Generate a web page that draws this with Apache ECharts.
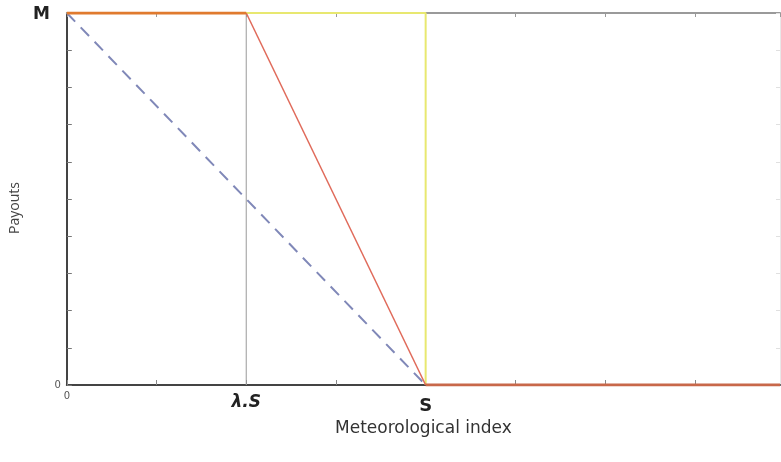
<!DOCTYPE html>
<html>
<head>
<meta charset="utf-8">
<script src="https://cdn.jsdelivr.net/npm/echarts@6/dist/echarts.min.js"></script>
<style>html,body{margin:0;padding:0;background:#fff}#c{width:781px;height:462px}</style>
</head>
<body>
<div id="c"></div>
<script>
// Axis key values (index units)
const lambdaS = 2;
const S = 4;
const M = 10;
const xMax = 7.95;
const xTickLabels = { 0: '0', 2: 'λ.S', 4: 'S' };
const yTickLabels = { 0: '0', 10: 'M' };

// Series point lists [index, payout]
const fullPayout = [[0, 10], [2, 10]];
const linearDecline = [[2, 10], [4, 0]];
const binaryPayout = [[0, 10], [4, 10], [4, 0]];
const lambdaMarker = [[2, 10], [2, 0]];
const proportional = [[0, 10], [4, 0]];
const zeroPayout = [[4, 0], [7.95, 0]];

const chart = echarts.init(document.getElementById('c'));
chart.setOption({
  animation: false,
  backgroundColor: '#fff',
  grid: { left: 65, right: 1, top: 13, bottom: 77 },
  xAxis: [{
    type: 'value', min: 0, max: xMax, interval: 1, position: 'bottom',
    name: 'Meteorological index', nameLocation: 'middle', nameGap: 29,
    nameTextStyle: { fontFamily: 'DejaVu Sans', fontSize: 17, color: '#333' },
    axisLine: { show: true, onZero: false, lineStyle: { color: '#444', width: 2 } },
    axisTick: { show: true, inside: true, length: 5, lineStyle: { color: '#888' } },
    splitLine: { show: false },
    axisLabel: {
      showMaxLabel: false,
      formatter: v => {
        const t = xTickLabels[v];
        if (t === undefined) return '';
        if (v === 0) return '{z|' + t + '}';
        if (v === 2) return '{l|' + t + '}';
        return '{s|' + t + '}';
      },
      rich: {
        z: { fontSize: 10, color: '#555', fontFamily: 'DejaVu Sans' },
        l: { fontSize: 17, color: '#222', fontWeight: 'bold', fontStyle: 'italic', fontFamily: 'DejaVu Sans', padding: [3, 0, 0, 0] },
        s: { fontSize: 18, color: '#222', fontWeight: 'bold', fontFamily: 'DejaVu Sans', padding: [6, 0, 0, 0] }
      },
      margin: 6
    }
  }, {
    type: 'value', min: 0, max: xMax, interval: 1, position: 'top',
    axisLine: { show: true, onZero: false, lineStyle: { color: '#9a9a9a', width: 2 } },
    axisTick: { show: true, inside: true, length: 4, lineStyle: { color: '#999' } },
    axisLabel: { show: false },
    splitLine: { show: false }
  }],
  yAxis: [{
    type: 'value', min: 0, max: M, interval: 1, position: 'left',
    name: 'Payouts', nameLocation: 'middle', nameGap: 40, nameRotate: 90,
    nameTextStyle: { fontFamily: 'Open Sans', fontSize: 14, color: '#444', padding: [0, 18, 0, 0] },
    axisLine: { show: true, onZero: false, lineStyle: { color: '#444', width: 2 } },
    axisTick: { show: true, inside: true, length: 5, lineStyle: { color: '#777' } },
    splitLine: { show: false },
    axisLabel: {
      margin: 6,
      formatter: v => {
        const t = yTickLabels[v];
        if (t === undefined) return '';
        return v === 0 ? '{z|' + t + '}' : '{m|' + t + '}';
      },
      rich: {
        z: { fontSize: 10, color: '#555', fontFamily: 'DejaVu Sans' },
        m: { fontSize: 17, color: '#222', fontWeight: 'bold', fontFamily: 'DejaVu Sans', padding: [4, 11, 0, 0] }
      }
    }
  }, {
    type: 'value', min: 0, max: M, interval: 1, position: 'right',
    axisLine: { show: true, onZero: false, lineStyle: { color: '#e8e8e8', width: 1 } },
    axisTick: { show: true, inside: true, length: 4, lineStyle: { color: '#e0e0e0' } },
    axisLabel: { show: false },
    splitLine: { show: false }
  }],
  series: [
    { type: 'line', data: binaryPayout, symbol: 'none', lineStyle: { color: '#e8e870', width: 2 }, z: 2 },
    { type: 'line', data: lambdaMarker, symbol: 'none', lineStyle: { color: '#999', width: 1 }, z: 2 },
    { type: 'line', data: proportional, symbol: 'none', lineStyle: { color: '#8088b8', width: 2, type: [12, 8] }, z: 3 },
    { type: 'line', data: linearDecline, symbol: 'none', lineStyle: { color: '#e06a5a', width: 1.5 }, z: 4 },
    { type: 'line', data: fullPayout, symbol: 'none', lineStyle: { color: '#e07a2e', width: 3 }, z: 5 },
    { type: 'line', data: zeroPayout, symbol: 'none', lineStyle: { color: '#c8684a', width: 3 }, z: 5 }
  ]
});
</script>
</body>
</html>
